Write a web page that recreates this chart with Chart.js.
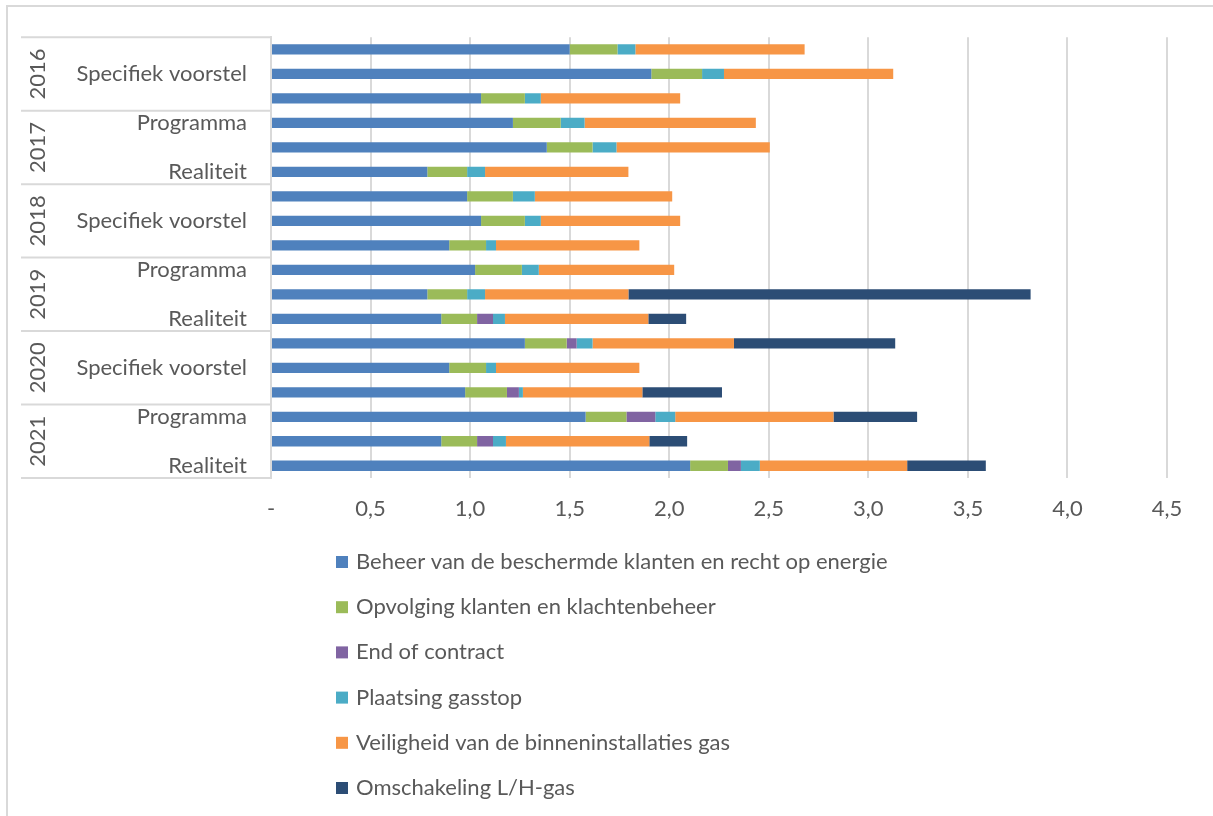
<!DOCTYPE html>
<html lang="nl">
<head>
  <meta charset="UTF-8">
  <title>Kosten per activiteit</title>
  <script src="https://cdn.jsdelivr.net/npm/chart.js"></script>
  <style>
    body {
      margin: 0;
      background: #fff;
    }
    #chart {
      display: block;
    }
  </style>
</head>
<body>
  <canvas id="chart" width="1213" height="816"></canvas>

  <script>
    // data, rows from top to bottom
    const years = ['2016', '2017', '2018', '2019', '2020', '2021'];
    const subCats = ['Programma', 'Specifiek voorstel', 'Realiteit'];
    const categories = years.flatMap(y => subCats);

    const seriesNames = [
      'Beheer van de beschermde klanten en recht op energie',
      'Opvolging klanten en klachtenbeheer',
      'End of contract',
      'Plaatsing gasstop',
      'Veiligheid van de binneninstallaties gas',
      'Omschakeling L/H-gas'
    ];
    const beheer    = [1.50, 1.91, 1.055, 1.215, 1.385, 0.785, 0.985, 1.055, 0.895, 1.025, 0.785, 0.855, 1.275, 0.895, 0.975, 1.58, 0.855, 2.105];
    const opvolging = [0.24, 0.255, 0.22, 0.24, 0.23, 0.20, 0.23, 0.22, 0.185, 0.235, 0.20, 0.18, 0.21, 0.185, 0.21, 0.205, 0.18, 0.19];
    const endOfContract = [null, null, null, null, null, null, null, null, null, null, null, 0.08, 0.05, null, 0.06, 0.145, 0.08, 0.065];
    const gasstop   = [0.09, 0.11, 0.08, 0.12, 0.12, 0.09, 0.11, 0.08, 0.05, 0.085, 0.09, 0.06, 0.08, 0.05, 0.02, 0.10, 0.065, 0.095];
    const veiligheid = [0.85, 0.85, 0.70, 0.86, 0.77, 0.72, 0.69, 0.70, 0.72, 0.68, 0.72, 0.72, 0.71, 0.72, 0.60, 0.795, 0.72, 0.74];
    const omschakeling = [null, null, null, null, null, null, null, null, null, null, 2.02, 0.19, 0.81, null, 0.40, 0.42, 0.19, 0.395];

    const xTicks = [0, 0.5, 1, 1.5, 2, 2.5, 3, 3.5, 4, 4.5];

    const colors = ['#4f81bd', '#9bbb59', '#8064a2', '#4bacc6', '#f79646', '#2c4d75'];
    const seriesData = [beheer, opvolging, endOfContract, gasstop, veiligheid, omschakeling];

    const textColor = '#595959';
    const lineColor = '#d9d9d9';
    const fontFamily = 'Lato, "Open Sans", sans-serif';
    const fontSize = 22;

    // frame, year groups and separators on the left
    const groupPlugin = {
      id: 'groups',
      afterDraw(chart) {
        const ctx = chart.ctx;
        const area = chart.chartArea;
        const perGroup = subCats.length;
        ctx.save();
        ctx.strokeStyle = lineColor;
        ctx.lineWidth = 2;
        // outer frame
        ctx.beginPath();
        ctx.moveTo(7, chart.height);
        ctx.lineTo(7, 6);
        ctx.lineTo(chart.width, 6);
        ctx.stroke();

        const rowH = (area.bottom - area.top) / categories.length;
        ctx.beginPath();
        for (let g = 0; g <= years.length; g++) {
          const y = area.top + g * perGroup * rowH;
          ctx.moveTo(21, y);
          ctx.lineTo(area.left, y);
        }
        ctx.stroke();

        ctx.fillStyle = textColor;
        ctx.font = fontSize + 'px ' + fontFamily;
        ctx.textAlign = 'center';
        ctx.textBaseline = 'middle';
        years.forEach((yr, g) => {
          const yc = area.top + (g + 0.5) * perGroup * rowH;
          ctx.save();
          ctx.translate(38, yc);
          ctx.rotate(-Math.PI / 2);
          ctx.fillText(yr, 0, 0);
          ctx.restore();
        });
        ctx.restore();
      }
    };

    // vertical legend under the chart
    const legendPlugin = {
      id: 'vlegend',
      afterDraw(chart) {
        const ctx = chart.ctx;
        ctx.save();
        ctx.font = fontSize + 'px ' + fontFamily;
        ctx.textBaseline = 'middle';
        ctx.textAlign = 'left';
        chart.data.datasets.forEach((ds, i) => {
          const y = 562 + i * 45.2;
          ctx.fillStyle = ds.backgroundColor;
          ctx.fillRect(336, y - 6, 12, 12);
          ctx.fillStyle = textColor;
          ctx.fillText(ds.label, 356, y);
        });
        ctx.restore();
      }
    };

    const ctx = document.getElementById('chart').getContext('2d');
    new Chart(ctx, {
      type: 'bar',
      data: {
        labels: categories,
        datasets: seriesNames.map((name, i) => ({
          label: name,
          data: seriesData[i],
          backgroundColor: colors[i],
          borderWidth: 0,
          barPercentage: 0.42,
          categoryPercentage: 1
        }))
      },
      options: {
        indexAxis: 'y',
        responsive: false,
        animation: false,
        devicePixelRatio: 1,
        layout: {
          padding: { top: 35, right: 46, left: 0, bottom: 0 }
        },
        plugins: {
          legend: { display: false },
          tooltip: { enabled: false }
        },
        scales: {
          x: {
            stacked: true,
            min: 0,
            max: 4.5,
            afterFit(scale) { scale.height = 816 - 478; },
            afterBuildTicks(scale) { scale.ticks = xTicks.map(v => ({ value: v })); },
            grid: { color: lineColor, lineWidth: 2, drawTicks: false },
            border: { display: false },
            ticks: {
              padding: 18,
              color: textColor,
              font: { family: fontFamily, size: fontSize },
              callback: v => v === 0 ? '-' : v.toFixed(1).replace('.', ',')
            }
          },
          y: {
            stacked: true,
            afterFit(scale) { scale.width = 271; },
            grid: { display: false, drawTicks: false },
            border: { display: true, color: lineColor, width: 2 },
            ticks: {
              autoSkip: false,
              padding: 24,
              color: textColor,
              font: { family: fontFamily, size: fontSize },
              callback: (v, i) => i % 2 === 1 ? categories[i] : ''
            }
          }
        }
      },
      plugins: [groupPlugin, legendPlugin]
    });
  </script>
</body>
</html>
